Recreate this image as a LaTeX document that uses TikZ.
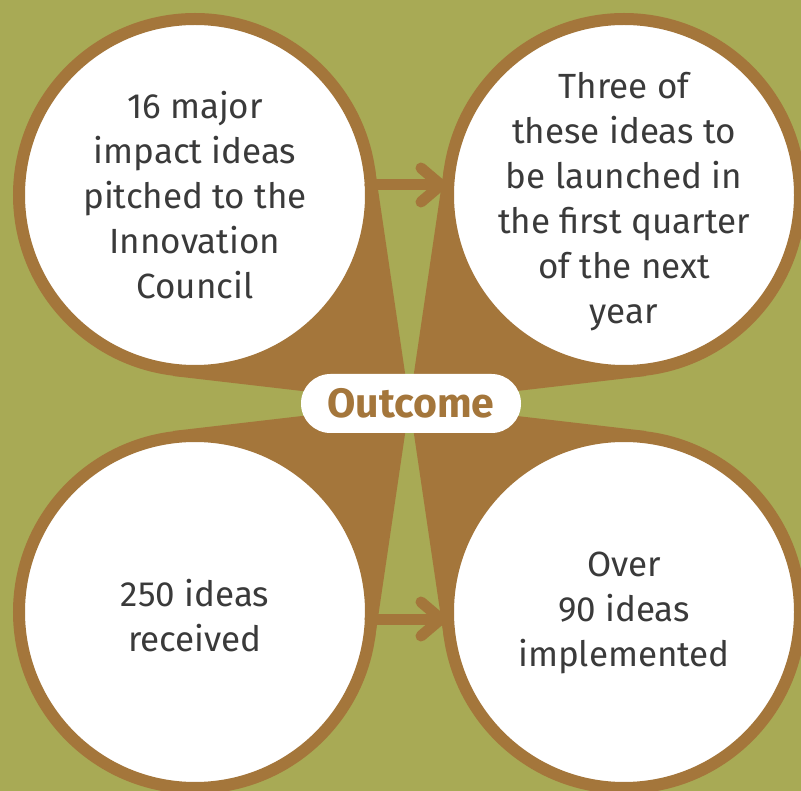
\documentclass[tikz,border=0pt]{standalone}
\usepackage{fontspec}
\setmainfont{Fira Sans}
\usetikzlibrary{calc}
\definecolor{bg}{HTML}{A8AA55}
\definecolor{brn}{HTML}{A4763B}
\definecolor{txt}{HTML}{3A3A3A}
\begin{document}
\begin{tikzpicture}[x=1pt,y=-1pt,
  ring/.style={circle, fill=white, draw=brn, line width=12pt, minimum size=352pt, inner sep=0pt, outer sep=0pt},
  lbl/.style={text=txt, font=\fontsize{35}{45}\selectfont, align=center, inner sep=0pt},
  tail/.style={fill=brn},
  arr/.style={draw=brn, line width=11pt, line cap=round, line join=round},
  pill/.style={fill=white, rounded corners=29.5pt, minimum width=220pt, minimum height=59pt, inner sep=0pt, text=brn, font=\bfseries\fontsize{41}{41}\selectfont}]
\useasboundingbox (0,0) rectangle (801,791);
\fill[bg] (0,0) rectangle (801,791);
\clip (0,0) rectangle (801,791);
\coordinate (C) at (409.5,403.5);
% tails (kites from the centre to the tangent points)
\fill[tail] (C) -- (375,169) -- (195,195) -- (173,376) -- cycle;
\fill[tail] (C) -- (444,169) -- (624,195) -- (646,376) -- cycle;
\fill[tail] (C) -- (375,638) -- (195,612) -- (173,431) -- cycle;
\fill[tail] (C) -- (444,638) -- (624,612) -- (646,431) -- cycle;
% circles
\node[ring] (tl) at (195,195) {};
\node[ring] (tr) at (624,195) {};
\node[ring] (bl) at (195,612) {};
\node[ring] (br) at (624,612) {};
% arrows
\coordinate (a1s) at (370,185);
\coordinate (a1e) at (441,185);
\coordinate (a2s) at (370,619);
\coordinate (a2e) at (441,619);
\draw[arr] (a1s) -- (a1e);
\draw[arr] ($(a1e)+(-20,-17)$) -- (a1e) -- ($(a1e)+(-20,17)$);
\draw[arr] (a2s) -- (a2e);
\draw[arr] ($(a2e)+(-20,-17)$) -- (a2e) -- ($(a2e)+(-20,17)$);
% texts
\node[lbl] (t1) at (195,195) {16 major\\impact ideas\\pitched to the\\Innovation\\Council};
\node[lbl] (t2) at (624,202) {Three of\\these ideas to\\be launched in\\the first quarter\\of the next\\year};
\node[lbl] (t3) at (195,616) {250 ideas\\received};
\node[lbl] (t4) at (624,613) {Over\\90 ideas\\implemented};
\node[pill] (outcome) at (411,403.5) {Outcome};
\end{tikzpicture}
\end{document}
